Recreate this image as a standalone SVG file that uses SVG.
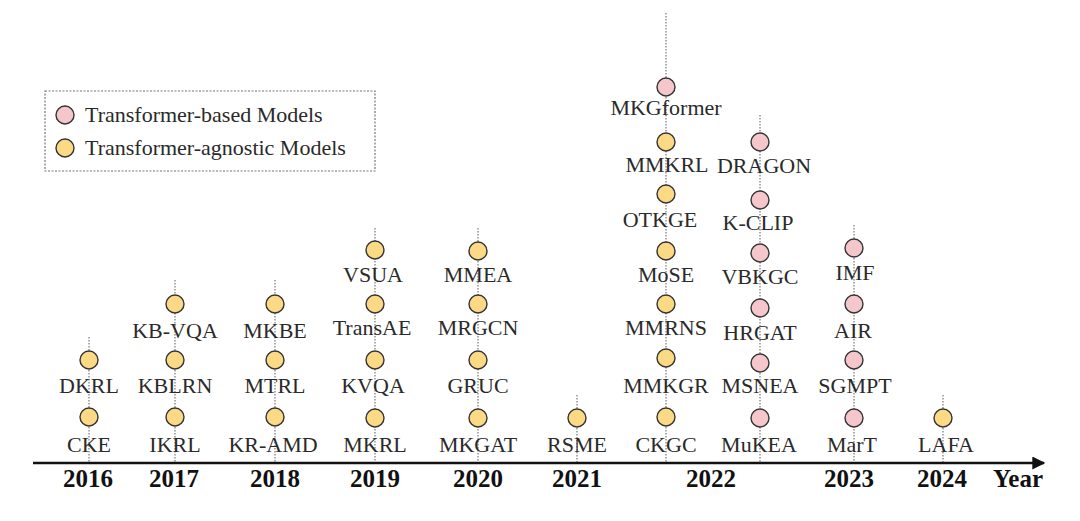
<svg xmlns="http://www.w3.org/2000/svg" width="1080" height="521" viewBox="0 0 1080 521">
<style>
.lbl{font-family:"Liberation Serif","Times New Roman",serif;font-size:22px;fill:#2a2a2a;text-anchor:middle}
.yr{font-family:"Liberation Serif","Times New Roman",serif;font-size:25px;font-weight:bold;fill:#111;text-anchor:middle}
.leg{font-family:"Liberation Serif","Times New Roman",serif;font-size:22px;fill:#2a2a2a}
.tb{fill:#f5c7cc;stroke:#333;stroke-width:1.4}
.ta{fill:#fcd985;stroke:#333;stroke-width:1.4}
.stem{stroke:#777;stroke-width:1.2;stroke-dasharray:1.5 1.5;fill:none}
</style>
<defs>
<marker id="arr" viewBox="0 0 10 10" refX="9" refY="5" markerWidth="6" markerHeight="5" orient="auto" markerUnits="strokeWidth">
<path d="M0,0 L10,5 L0,10 z" fill="#111"/>
</marker>
</defs>
<rect width="1080" height="521" fill="#fff"/>

<g id="legend">
<rect x="45" y="91" width="330" height="80" fill="none" stroke="#777" stroke-width="1.2" stroke-dasharray="2 1.5"/>
<circle class="tb" cx="65" cy="115" r="9"/>
<text class="leg" x="85" y="122">Transformer-based Models</text>
<circle class="ta" cx="65" cy="148" r="9"/>
<text class="leg" x="85" y="155">Transformer-agnostic Models</text>
</g>

<g id="connectors">
<line class="stem" x1="89" y1="337" x2="89" y2="463"/>
<line class="stem" x1="175" y1="280" x2="175" y2="463"/>
<line class="stem" x1="275" y1="280" x2="275" y2="463"/>
<line class="stem" x1="375" y1="228" x2="375" y2="463"/>
<line class="stem" x1="478" y1="228" x2="478" y2="463"/>
<line class="stem" x1="577" y1="395" x2="577" y2="463"/>
<line class="stem" x1="666" y1="13" x2="666" y2="463"/>
<line class="stem" x1="760" y1="115" x2="760" y2="463"/>
<line class="stem" x1="854" y1="225" x2="854" y2="463"/>
<line class="stem" x1="943" y1="395" x2="943" y2="463"/>
<line x1="33" y1="463" x2="1044" y2="463" stroke="#111" stroke-width="2.6" marker-end="url(#arr)"/>
</g>

<g id="years">
<text class="yr" x="88" y="487">2016</text>
<text class="yr" x="174" y="487">2017</text>
<text class="yr" x="275" y="487">2018</text>
<text class="yr" x="375" y="487">2019</text>
<text class="yr" x="478" y="487">2020</text>
<text class="yr" x="577" y="487">2021</text>
<text class="yr" x="711" y="487">2022</text>
<text class="yr" x="849" y="487">2023</text>
<text class="yr" x="942" y="487">2024</text>
<text class="yr" x="1018" y="487">Year</text>
</g>

<g id="n-CKE"><circle class="ta" cx="89" cy="417" r="9"/><text class="lbl" x="89" y="452">CKE</text></g>
<g id="n-DKRL"><circle class="ta" cx="89" cy="360" r="9"/><text class="lbl" x="89" y="393">DKRL</text></g>

<g id="n-IKRL"><circle class="ta" cx="175" cy="417" r="9"/><text class="lbl" x="175" y="452">IKRL</text></g>
<g id="n-KBLRN"><circle class="ta" cx="175" cy="360" r="9"/><text class="lbl" x="175" y="393">KBLRN</text></g>
<g id="n-KB-VQA"><circle class="ta" cx="175" cy="304" r="9"/><text class="lbl" x="175" y="338">KB-VQA</text></g>

<g id="n-KR-AMD"><circle class="ta" cx="275" cy="417" r="9"/><text class="lbl" x="273" y="452">KR-AMD</text></g>
<g id="n-MTRL"><circle class="ta" cx="275" cy="360" r="9"/><text class="lbl" x="275" y="393">MTRL</text></g>
<g id="n-MKBE"><circle class="ta" cx="275" cy="304" r="9"/><text class="lbl" x="275" y="338">MKBE</text></g>

<g id="n-MKRL"><circle class="ta" cx="375" cy="418" r="9"/><text class="lbl" x="375" y="452">MKRL</text></g>
<g id="n-KVQA"><circle class="ta" cx="375" cy="360" r="9"/><text class="lbl" x="373" y="393">KVQA</text></g>
<g id="n-TransAE"><circle class="ta" cx="375" cy="304" r="9"/><text class="lbl" x="372" y="335">TransAE</text></g>
<g id="n-VSUA"><circle class="ta" cx="375" cy="250" r="9"/><text class="lbl" x="373" y="282">VSUA</text></g>

<g id="n-MKGAT"><circle class="ta" cx="478" cy="418" r="9"/><text class="lbl" x="478" y="452">MKGAT</text></g>
<g id="n-GRUC"><circle class="ta" cx="478" cy="360" r="9"/><text class="lbl" x="478" y="393">GRUC</text></g>
<g id="n-MRGCN"><circle class="ta" cx="478" cy="304" r="9"/><text class="lbl" x="478" y="335">MRGCN</text></g>
<g id="n-MMEA"><circle class="ta" cx="478" cy="251" r="9"/><text class="lbl" x="478" y="282">MMEA</text></g>

<g id="n-RSME"><circle class="ta" cx="577" cy="418" r="9"/><text class="lbl" x="577" y="452">RSME</text></g>

<g id="n-CKGC"><circle class="ta" cx="666" cy="417" r="9"/><text class="lbl" x="666" y="452">CKGC</text></g>
<g id="n-MMKGR"><circle class="ta" cx="666" cy="358" r="9"/><text class="lbl" x="666" y="393">MMKGR</text></g>
<g id="n-MMRNS"><circle class="ta" cx="666" cy="304" r="9"/><text class="lbl" x="666" y="335">MMRNS</text></g>
<g id="n-MoSE"><circle class="ta" cx="666" cy="251" r="9"/><text class="lbl" x="666" y="282">MoSE</text></g>
<g id="n-OTKGE"><circle class="ta" cx="666" cy="194" r="9"/><text class="lbl" x="660" y="227">OTKGE</text></g>
<g id="n-MMKRL"><circle class="ta" cx="666" cy="142" r="9"/><text class="lbl" x="667" y="172">MMKRL</text></g>
<g id="n-MKGformer"><circle class="tb" cx="666" cy="87" r="9"/><text class="lbl" x="666" y="115">MKGformer</text></g>

<g id="n-MuKEA"><circle class="tb" cx="760" cy="418" r="9"/><text class="lbl" x="759" y="452">MuKEA</text></g>
<g id="n-MSNEA"><circle class="tb" cx="760" cy="363" r="9"/><text class="lbl" x="760" y="393">MSNEA</text></g>
<g id="n-HRGAT"><circle class="tb" cx="760" cy="308" r="9"/><text class="lbl" x="760" y="340">HRGAT</text></g>
<g id="n-VBKGC"><circle class="tb" cx="760" cy="253" r="9"/><text class="lbl" x="760" y="284">VBKGC</text></g>
<g id="n-K-CLIP"><circle class="tb" cx="760" cy="200" r="9"/><text class="lbl" x="758" y="230">K-CLIP</text></g>
<g id="n-DRAGON"><circle class="tb" cx="760" cy="142" r="9"/><text class="lbl" x="764" y="173">DRAGON</text></g>

<g id="n-MarT"><circle class="tb" cx="854" cy="418" r="9"/><text class="lbl" x="852" y="452">MarT</text></g>
<g id="n-SGMPT"><circle class="tb" cx="854" cy="360" r="9"/><text class="lbl" x="855" y="393">SGMPT</text></g>
<g id="n-AIR"><circle class="tb" cx="854" cy="304" r="9"/><text class="lbl" x="853" y="338">AIR</text></g>
<g id="n-IMF"><circle class="tb" cx="854" cy="248" r="9"/><text class="lbl" x="855" y="280">IMF</text></g>

<g id="n-LAFA"><circle class="ta" cx="943" cy="418" r="9"/><text class="lbl" x="946" y="452">LAFA</text></g>
</svg>
